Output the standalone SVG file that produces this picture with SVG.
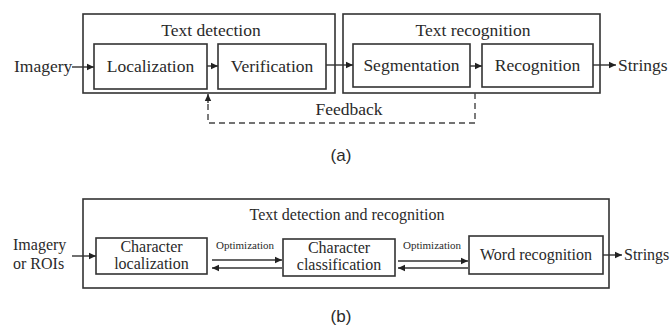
<svg xmlns="http://www.w3.org/2000/svg" width="670" height="328" viewBox="0 0 670 328">
<style>
.t{font-family:"Liberation Serif","Times New Roman",serif;fill:#2a2a2a}
.a{font-size:17.5px}
.b{font-size:16px}
.s{font-size:11px}
.cap{font-family:"Liberation Sans",Arial,sans-serif;font-size:17px;fill:#2a2a2a}
.box{fill:none;stroke:#333;stroke-width:1.6}
.ln{fill:none;stroke:#333;stroke-width:1.4}
.dash{fill:none;stroke:#444;stroke-width:1.4;stroke-dasharray:6 4}
</style>
<defs>
<marker id="ah" markerWidth="8" markerHeight="8" refX="7" refY="4" orient="auto" markerUnits="userSpaceOnUse">
<path d="M0,0.8 L7,4 L0,7.2 z" fill="#222"/>
</marker>
</defs>
<rect width="670" height="328" fill="#fff"/>

<g id="group-text-detection">
<rect class="box" x="83" y="14" width="252" height="79"/>
<text class="t a" x="211" y="36" text-anchor="middle">Text detection</text>
</g>
<g id="node-localization">
<rect class="box" x="94" y="44" width="113" height="45"/>
<text class="t a" x="150.5" y="72" text-anchor="middle">Localization</text>
</g>
<g id="node-verification">
<rect class="box" x="218" y="44" width="108" height="45"/>
<text class="t a" x="272" y="72" text-anchor="middle">Verification</text>
</g>
<g id="group-text-recognition">
<rect class="box" x="343" y="14" width="257" height="79"/>
<text class="t a" x="473" y="36" text-anchor="middle">Text recognition</text>
</g>
<g id="node-segmentation">
<rect class="box" x="353" y="44" width="117" height="43"/>
<text class="t a" x="411.5" y="71" text-anchor="middle">Segmentation</text>
</g>
<g id="node-recognition">
<rect class="box" x="482" y="44" width="111" height="43"/>
<text class="t a" x="537.5" y="71" text-anchor="middle">Recognition</text>
</g>
<g id="label-imagery-a"><text class="t a" x="14" y="72">Imagery</text></g>
<g id="label-strings-a"><text class="t a" x="618" y="71">Strings</text></g>
<g id="label-feedback"><text class="t a" x="349" y="115" text-anchor="middle">Feedback</text></g>
<g id="caption-a"><text class="cap" x="341" y="161" text-anchor="middle">(a)</text></g>

<g id="group-text-det-rec">
<rect class="box" x="83" y="199" width="526" height="89"/>
<text class="t b" x="347" y="220" text-anchor="middle">Text detection and recognition</text>
</g>
<g id="node-char-loc">
<rect class="box" x="96" y="238" width="111" height="36"/>
<text class="t b" x="151.5" y="252" text-anchor="middle">Character</text>
<text class="t b" x="151.5" y="269" text-anchor="middle">localization</text>
</g>
<g id="node-char-cls">
<rect class="box" x="283" y="239" width="112" height="37"/>
<text class="t b" x="339" y="253" text-anchor="middle">Character</text>
<text class="t b" x="339" y="270" text-anchor="middle">classification</text>
</g>
<g id="node-word-rec">
<rect class="box" x="469" y="236" width="134" height="38"/>
<text class="t b" x="536" y="260" text-anchor="middle">Word recognition</text>
</g>
<g id="label-imagery-b">
<text class="t b" x="13" y="250">Imagery</text>
<text class="t b" x="13" y="269">or ROIs</text>
</g>
<g id="label-opt-1"><text class="t s" x="245" y="249" text-anchor="middle">Optimization</text></g>
<g id="label-opt-2"><text class="t s" x="432" y="249" text-anchor="middle">Optimization</text></g>
<g id="label-strings-b"><text class="t b" x="624" y="260">Strings</text></g>
<g id="caption-b"><text class="cap" x="341" y="322" text-anchor="middle">(b)</text></g>

<g id="connectors">
<line class="ln" x1="72" y1="67" x2="94" y2="67" marker-end="url(#ah)"/>
<line class="ln" x1="207" y1="66" x2="218" y2="66" marker-end="url(#ah)"/>
<line class="ln" x1="326" y1="65" x2="353" y2="65" marker-end="url(#ah)"/>
<line class="ln" x1="470" y1="66" x2="482" y2="66" marker-end="url(#ah)"/>
<line class="ln" x1="593" y1="65" x2="616" y2="65" marker-end="url(#ah)"/>
<path class="dash" d="M475,93 V123 H208 V103"/>
<line class="ln" x1="208" y1="103" x2="208" y2="94" marker-end="url(#ah)"/>
<line class="ln" x1="72" y1="256" x2="96" y2="256" marker-end="url(#ah)"/>
<line class="ln" x1="212" y1="260" x2="282" y2="260" marker-end="url(#ah)"/>
<line class="ln" x1="282" y1="268" x2="212" y2="268" marker-end="url(#ah)"/>
<line class="ln" x1="398" y1="261" x2="468" y2="261" marker-end="url(#ah)"/>
<line class="ln" x1="468" y1="268" x2="398" y2="268" marker-end="url(#ah)"/>
<line class="ln" x1="603" y1="255" x2="622" y2="255" marker-end="url(#ah)"/>
</g>
</svg>
